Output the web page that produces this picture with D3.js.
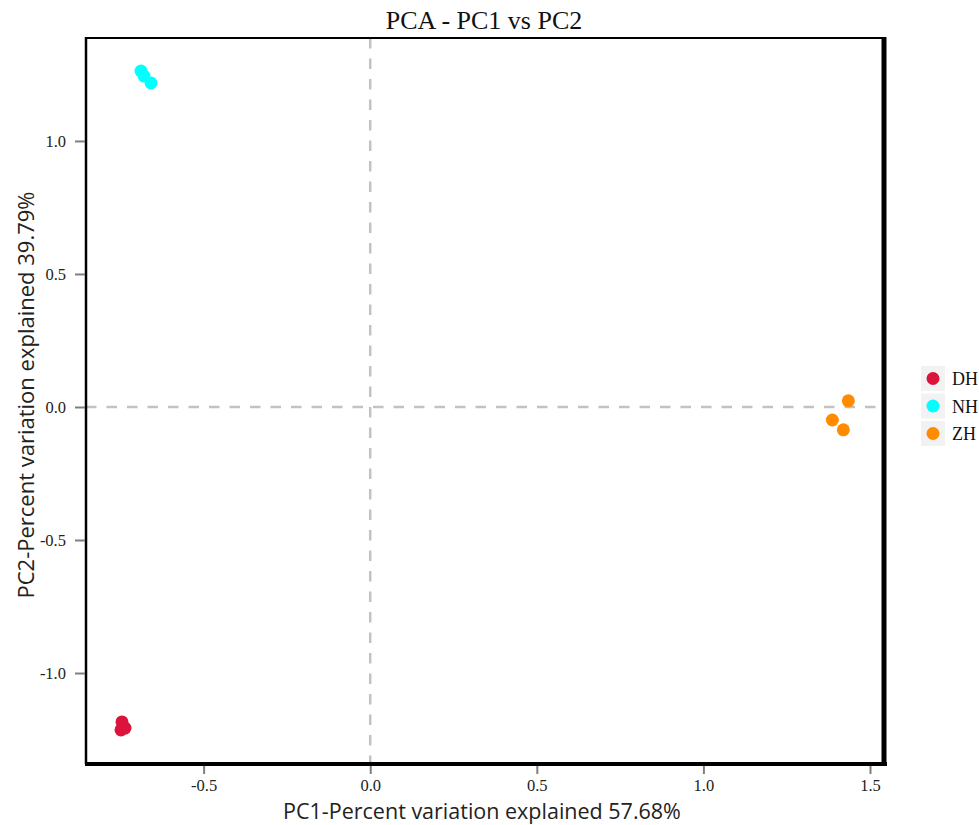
<!DOCTYPE html>
<html>
<head>
<meta charset="utf-8">
<script src="https://cdn.jsdelivr.net/npm/d3@7"></script>
<style>
  body { margin: 0; background: #fff; }
  svg { display: block; }
</style>
</head>
<body>
<svg id="chart" width="979" height="825"></svg>
<script>
// groups and PCA scores
const groups = ['DH', 'NH', 'ZH'];
const groupColors = ['#dc143c', '#00ffff', '#ff8c00'];
const sampleGroup = ['DH', 'DH', 'DH', 'NH', 'NH', 'NH', 'ZH', 'ZH', 'ZH'];
const pc1 = [-0.745, -0.748, -0.736, -0.688, -0.679, -0.658, 1.435, 1.387, 1.420];
const pc2 = [-1.184, -1.214, -1.207, 1.263, 1.244, 1.218, 0.023, -0.049, -0.086];
const xTicks = [-0.5, 0.0, 0.5, 1.0, 1.5];
const yTicks = [-1.0, -0.5, 0.0, 0.5, 1.0];

const svg = d3.select('#chart');
// plot panel edges
const pLeft = 86, pRight = 884, pTop = 38, pBottom = 764;

const xScale = d3.scaleLinear().domain([-0.853, 1.542]).range([pLeft, pRight]);
const yScale = d3.scaleLinear().domain([-1.342, 1.387]).range([pBottom, pTop]);
const color = d3.scaleOrdinal().domain(groups).range(groupColors);

const serif = '"Liberation Serif", "Times New Roman", serif';
const sans = '"Open Sans", "Noto Sans", sans-serif';

// dashed zero lines
svg.append('line')
    .attr('x1', xScale(0)).attr('x2', xScale(0))
    .attr('y1', pTop).attr('y2', pBottom)
    .attr('stroke', '#c2c2c2').attr('stroke-width', 2.5)
    .attr('stroke-dasharray', '10.5,10');
svg.append('line')
    .attr('x1', pLeft).attr('x2', pRight)
    .attr('y1', yScale(0)).attr('y2', yScale(0))
    .attr('stroke', '#c2c2c2').attr('stroke-width', 2.5)
    .attr('stroke-dasharray', '10.5,10');

// points
svg.append('g')
    .selectAll('circle')
    .data(pc1.map((d, i) => [d, pc2[i], sampleGroup[i]]))
    .join('circle')
    .attr('cx', (d) => xScale(d[0]))
    .attr('cy', (d) => yScale(d[1]))
    .attr('r', 6.5)
    .attr('fill', (d) => color(d[2]));

// panel border: thin top/left, heavier bottom/right
svg.append('line').attr('x1', pLeft).attr('x2', pRight + 2).attr('y1', pTop).attr('y2', pTop)
    .attr('stroke', '#000').attr('stroke-width', 2);
svg.append('line').attr('x1', pLeft).attr('x2', pLeft).attr('y1', pTop - 1).attr('y2', pBottom)
    .attr('stroke', '#000').attr('stroke-width', 2.5);
svg.append('line').attr('x1', pLeft - 1).attr('x2', pRight + 3).attr('y1', pBottom).attr('y2', pBottom)
    .attr('stroke', '#000').attr('stroke-width', 4);
svg.append('line').attr('x1', pRight).attr('x2', pRight).attr('y1', pTop - 1).attr('y2', pBottom + 2)
    .attr('stroke', '#000').attr('stroke-width', 5);

// axes
const fmt = (d) => d3.format('.1f')(d).replace('−', '-');
const xAxis = svg.append('g')
    .attr('transform', `translate(0, ${pBottom + 2})`)
    .call(d3.axisBottom(xScale).tickValues(xTicks).tickFormat(fmt).tickSize(8).tickPadding(5));
const yAxis = svg.append('g')
    .attr('transform', `translate(${pLeft - 1}, 0)`)
    .call(d3.axisLeft(yScale).tickValues(yTicks).tickFormat(fmt).tickSize(10).tickPadding(9));
[xAxis, yAxis].forEach((a) => {
    a.select('.domain').remove();
    a.selectAll('.tick line').attr('stroke', '#7f7f7f').attr('stroke-width', 2);
    a.selectAll('.tick text')
        .attr('fill', '#222')
        .style('font-family', serif)
        .style('font-size', '16.5px');
});

// title and axis titles
svg.append('text')
    .attr('x', 484).attr('y', 29)
    .attr('text-anchor', 'middle')
    .style('font-family', serif).style('font-size', '26px').attr('fill', '#111')
    .text('PCA - PC1 vs PC2');
svg.append('text')
    .attr('x', 482).attr('y', 819)
    .attr('text-anchor', 'middle')
    .style('font-family', sans).style('font-size', '21.5px').attr('fill', '#222')
    .text('PC1-Percent variation explained 57.68%');
svg.append('text')
    .attr('transform', `translate(34, 395) rotate(-90)`)
    .attr('text-anchor', 'middle')
    .style('font-family', sans).style('font-size', '22px').attr('fill', '#222')
    .text('PC2-Percent variation explained 39.79%');

// legend
const legend = svg.append('g').attr('transform', 'translate(921, 366)');
const item = legend.selectAll('g')
    .data(groups)
    .join('g')
    .attr('transform', (d, i) => `translate(0, ${i * 27.5})`);
item.append('rect')
    .attr('width', 24).attr('height', 25)
    .attr('fill', '#f2f2f2');
item.append('circle')
    .attr('cx', 12).attr('cy', 12.5).attr('r', 6.5)
    .attr('fill', (d) => color(d));
item.append('text')
    .attr('x', 31).attr('y', 19)
    .style('font-family', serif).style('font-size', '18px').attr('fill', '#111')
    .text((d) => d);
</script>
</body>
</html>
